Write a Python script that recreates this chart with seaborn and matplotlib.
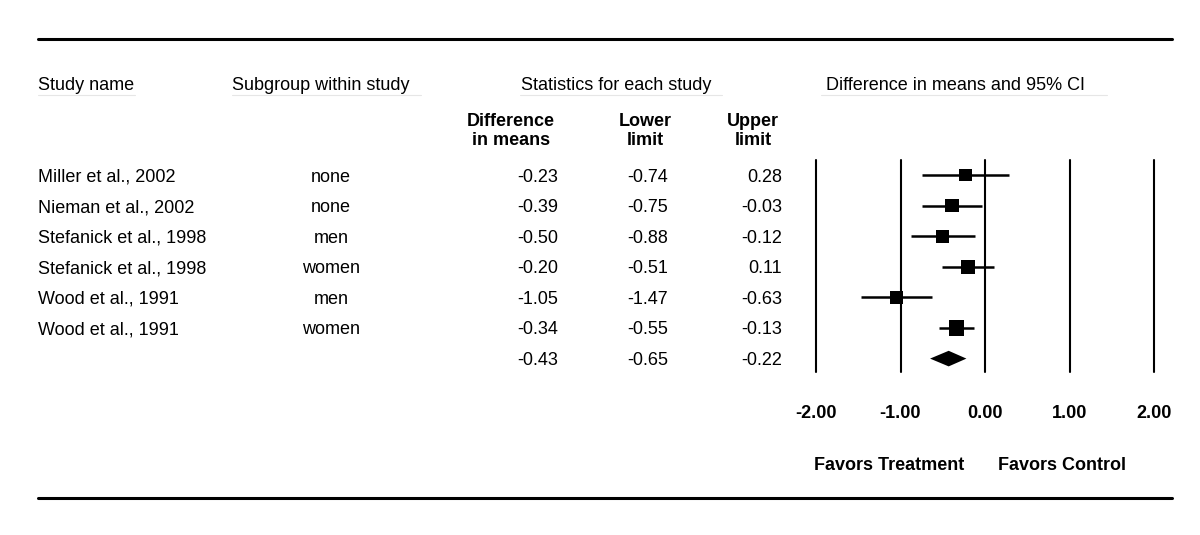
import matplotlib
matplotlib.use("Agg")
import matplotlib.pyplot as plt
import matplotlib.transforms as mtransforms
from matplotlib.lines import Line2D
import numpy as np
import seaborn as sns

# ---- data ----
studies = ["Miller et al., 2002", "Nieman et al., 2002", "Stefanick et al., 1998",
           "Stefanick et al., 1998", "Wood et al., 1991", "Wood et al., 1991"]
subgroups = ["none", "none", "men", "women", "men", "women"]
diff = [-0.23, -0.39, -0.50, -0.20, -1.05, -0.34]
lower = [-0.74, -0.75, -0.88, -0.51, -1.47, -0.55]
upper = [0.28, -0.03, -0.12, 0.11, -0.63, -0.13]
weights = [15, 16, 15, 17, 16, 21]          # relative weight (%) -> square size
summary_diff, summary_lower, summary_upper = -0.43, -0.65, -0.22
xticks = [-2, -1, 0, 1, 2]

W, H = 1200, 535
def fx(px):
    return px / W
def fy(py):
    return 1 - py / H

sns.set_theme(style="white")
plt.rcParams["font.family"] = ["Liberation Sans", "DejaVu Sans"]
plt.rcParams["text.color"] = "black"
plt.rcParams["xtick.color"] = "black"
FS = 13

fig = plt.figure(figsize=(12, 5.35), dpi=100)
fig.patch.set_facecolor("white")

# forest panel: -2..2 spans 816..1154 px, rows start at 175 px, 30.6 px apart
row_h = 30.6
top_px, bot_px = 160, 372
ax = fig.add_axes([fx(816), fy(bot_px), fx(1154) - fx(816), (bot_px - top_px) / H])
ylims = ((bot_px - 175) / row_h, (top_px - 175) / row_h)
ax.set_facecolor("none")
for s in ax.spines.values():
    s.set_visible(False)
for xv in xticks:
    ax.axvline(xv, color="black", lw=1.5, clip_on=False)

rows = np.arange(len(studies))
ax.hlines(rows, lower, upper, color="black", lw=1.8)
area = {w: (0.72 * 12.8 * np.sqrt(w / 15)) ** 2 for w in set(weights)}
sns.scatterplot(x=diff, y=rows, size=weights, sizes=area, marker="s",
                color="black", edgecolor="none", linewidth=0, legend=False, ax=ax)
ax.set_ylim(*ylims)
ax.set_xlim(-2, 2)
ax.set_yticks([])
ax.set_xlabel("")
ax.set_ylabel("")

# pooled diamond
srow = len(studies)
dh = 7.8 / row_h
ax.fill([summary_lower, summary_diff, summary_upper, summary_diff],
        [srow, srow - dh, srow, srow + dh], color="black", lw=0)

ax.set_xticks(xticks)
ax.set_xticklabels([f"{v:.2f}" for v in xticks], fontsize=FS, fontweight="bold")
ax.tick_params(axis="x", length=0, pad=24, colors="black")

bt = mtransforms.blended_transform_factory(ax.transData, fig.transFigure)
ax.text(-1.14, fy(466), "Favors Treatment", transform=bt, ha="center", va="center",
        fontsize=FS, fontweight="bold")
ax.text(0.91, fy(466), "Favors Control", transform=bt, ha="center", va="center",
        fontsize=FS, fontweight="bold")

# table part
tr = mtransforms.blended_transform_factory(fig.transFigure, ax.transData)
kw = dict(transform=tr, va="center_baseline", fontsize=FS)
for i in rows:
    fig.text(fx(38), i, studies[i], ha="left", **kw)
    fig.text(fx(331), i, subgroups[i], ha="center", **kw)
    fig.text(fx(558), i, f"{diff[i]:.2f}", ha="right", **kw)
    fig.text(fx(668), i, f"{lower[i]:.2f}", ha="right", **kw)
    fig.text(fx(782), i, f"{upper[i]:.2f}", ha="right", **kw)
fig.text(fx(558), srow, f"{summary_diff:.2f}", ha="right", **kw)
fig.text(fx(668), srow, f"{summary_lower:.2f}", ha="right", **kw)
fig.text(fx(782), srow, f"{summary_upper:.2f}", ha="right", **kw)

# headers
hk = dict(va="center_baseline", fontsize=FS)
fig.text(fx(38), fy(84), "Study name", ha="left", **hk)
fig.text(fx(232), fy(84), "Subgroup within study", ha="left", **hk)
fig.text(fx(616), fy(84), "Statistics for each study", ha="center", **hk)
fig.text(fx(956), fy(84), "Difference in means and 95% CI", ha="center", **hk)
for xc, lab in [(511, "Difference\nin means"), (645, "Lower\nlimit"), (753, "Upper\nlimit")]:
    fig.text(fx(xc), fy(131), lab, ha="center", va="center", fontsize=FS,
             fontweight="bold", linespacing=1.2)

# faint header underlines
for x0, x1 in [(38, 135), (232, 421), (520, 722), (821, 1107)]:
    fig.add_artist(Line2D([fx(x0), fx(x1)], [fy(95), fy(95)], color="#e6e6e6", lw=0.8))

# heavy rules
for yy in (39, 498):
    fig.add_artist(Line2D([fx(38), fx(1172)], [fy(yy), fy(yy)], color="black", lw=2.2))

fig.savefig("out.png", dpi=100, facecolor="white")
